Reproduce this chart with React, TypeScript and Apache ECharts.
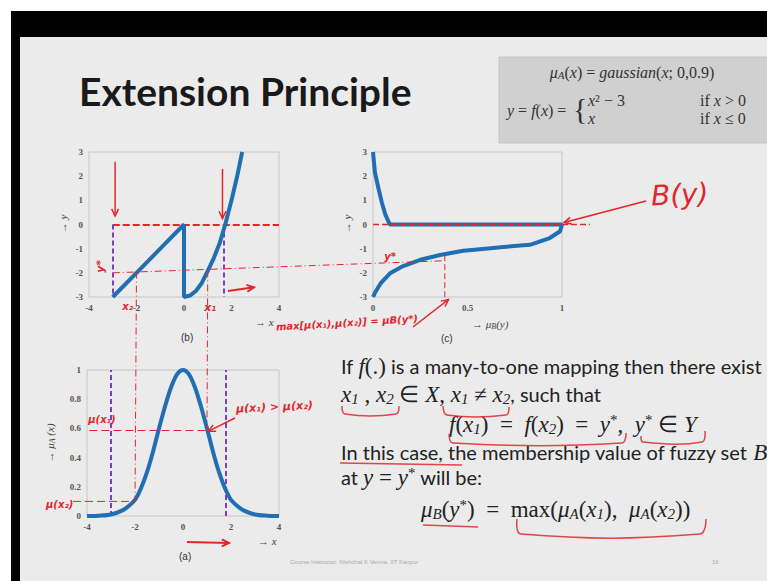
import React, { useEffect, useRef } from 'react';
import * as echarts from 'echarts';

// (b) y = f(x)
const fX = [-3, -2, -1, 0, 0, 0.25, 0.5, 0.75, 1, 1.25, 1.5, 1.75, 2, 2.25, 2.45];
const fY = [-3, -2, -1, 0, -3, -2.94, -2.75, -2.42, -1.92, -1.4, -0.78, 0.05, 1.0, 2.05, 3.0];

// (c) mu_B(y)
const muB = [0, 0.01, 0.03, 0.047, 0.065, 0.083, 0.09, 1, 0.99, 0.935, 0.83, 0.69, 0.566, 0.478, 0.355, 0.25, 0.16, 0.09, 0.04, 0.012, 0];
const yB = [3, 2.16, 1.46, 0.9, 0.42, 0.1, 0, 0, -0.28, -0.56, -0.84, -0.93, -1.02, -1.09, -1.26, -1.46, -1.72, -2.02, -2.44, -2.8, -3];

// (a) mu_A(x)
const aX = [-4, -3.5, -3, -2.5, -2.25, -2, -1.75, -1.5, -1.25, -1, -0.75, -0.5, -0.25, 0, 0.25, 0.5, 0.75, 1, 1.25, 1.5, 1.75, 2, 2.25, 2.5, 3, 3.5, 4];
const aY = [0, 0.002, 0.01, 0.04, 0.07, 0.11, 0.19, 0.3, 0.44, 0.6, 0.75, 0.88, 0.97, 1, 0.97, 0.88, 0.75, 0.6, 0.44, 0.3, 0.19, 0.11, 0.07, 0.04, 0.01, 0.002, 0];

// axis ranges / ticks [min, max, interval]
const xRangeB = [-4, 4, 2];
const yRangeB = [-3, 3, 1];
const xRangeC = [0, 1, 0.5];
const yRangeA = [0, 1, 0.2];

// marked positions
const xLeftMark = -3;
const xRightMarkB = 1.67;
const xRightMarkA = 1.8;
const x2 = -2;
const x1 = 1;
const yStarB = -2;
const yStarC = -1.5;
const muStar = 0.38;
const mu1 = 0.59;
const mu2 = 0.1;

const RED = '#e3262b';
const PURPLE = '#7a3fc9';
const BLUE = '#1f6fb2';
const TICK = { fontFamily: 'Liberation Serif', fontWeight: 'bold' as const, fontSize: 9, color: '#555' };

const pairs = (xs: number[], ys: number[]) => xs.map((x, i) => [x, ys[i]]);

function axis(gi: number, r: number[]) {
  return {
    type: 'value', gridIndex: gi, min: r[0], max: r[1], interval: r[2],
    axisLine: { show: false }, axisTick: { show: false }, splitLine: { show: false },
    axisLabel: { ...TICK, margin: 6 },
  };
}

export default function App() {
  const ref = useRef<HTMLDivElement>(null);
  useEffect(() => {
    const chart = echarts.init(ref.current!, null, { renderer: 'svg' });
    const purpleLine = { color: PURPLE, type: [5, 3], width: 2 };
    chart.setOption({
      animation: false,
      backgroundColor: '#ebebeb',
      grid: [
        { left: 89, top: 152, width: 190, height: 145, show: true, borderColor: '#c6c6c6', borderWidth: 1, backgroundColor: 'transparent' },
        { left: 373, top: 152, width: 189, height: 145, show: true, borderColor: '#c6c6c6', borderWidth: 1, backgroundColor: 'transparent' },
        { left: 87, top: 370, width: 192, height: 146, show: true, borderColor: '#c6c6c6', borderWidth: 1, backgroundColor: 'transparent' },
      ],
      xAxis: [axis(0, xRangeB), axis(1, xRangeC), axis(2, xRangeB)],
      yAxis: [axis(0, yRangeB), axis(1, yRangeB), axis(2, yRangeA)],
      series: [
        {
          type: 'line', xAxisIndex: 0, yAxisIndex: 0, data: pairs(fX, fY), symbol: 'none',
          lineStyle: { color: BLUE, width: 4 }, z: 5,
          markLine: {
            silent: true, symbol: ['none', 'none'], label: { show: false }, z: 4,
            data: [
              [{ coord: [xLeftMark, 0], lineStyle: { color: RED, type: [7, 3], width: 2 } }, { coord: [4, 0] }],
              [{ coord: [xLeftMark, 0], lineStyle: purpleLine }, { coord: [xLeftMark, -3] }],
              [{ coord: [xRightMarkB, 0], lineStyle: purpleLine }, { coord: [xRightMarkB, -3] }],
            ],
          },
        },
        {
          type: 'line', xAxisIndex: 1, yAxisIndex: 1, data: pairs(muB, yB), symbol: 'none',
          lineStyle: { color: BLUE, width: 4 }, z: 5,
        },
        {
          type: 'line', xAxisIndex: 2, yAxisIndex: 2, data: pairs(aX, aY), symbol: 'none', smooth: 0.3,
          lineStyle: { color: BLUE, width: 4 }, z: 5,
          markLine: {
            silent: true, symbol: ['none', 'none'], label: { show: false }, z: 4,
            data: [
              [{ coord: [xLeftMark, 0], lineStyle: purpleLine }, { coord: [xLeftMark, 1] }],
              [{ coord: [xRightMarkA, 0], lineStyle: purpleLine }, { coord: [xRightMarkA, 1] }],
              [{ coord: [-3.9, mu1], lineStyle: { color: RED, type: [8, 4], width: 1 } }, { coord: [x1, mu1] }],
            ],
          },
        },
      ],
    });

    const P = (g: number, x: number, y: number) => chart.convertToPixel({ gridIndex: g } as any, [x, y]) as number[];
    const G: any[] = [];
    const Z = 50;
    const line = (a: number[], b: number[], w = 1.3, dash: any = null, color = RED) =>
      G.push({ type: 'line', z: Z, shape: { x1: a[0], y1: a[1], x2: b[0], y2: b[1] }, style: { stroke: color, lineWidth: w, lineDash: dash } });
    const arrow = (a: number[], b: number[], w = 1.5) => {
      line(a, b, w);
      const ang = Math.atan2(b[1] - a[1], b[0] - a[0]);
      const L = 8;
      const p1 = [b[0] + L * Math.cos(ang + Math.PI - 0.45), b[1] + L * Math.sin(ang + Math.PI - 0.45)];
      const p2 = [b[0] + L * Math.cos(ang + Math.PI + 0.45), b[1] + L * Math.sin(ang + Math.PI + 0.45)];
      G.push({ type: 'polyline', z: Z, shape: { points: [p1, b, p2] }, style: { stroke: RED, lineWidth: w, fill: null } });
    };
    const txt = (x: number, y: number, text: string, style: any, extra: any = {}) =>
      G.push({ type: 'text', z: Z, x, y, ...extra, style: { text, align: 'left', textAlign: 'left', verticalAlign: 'middle', textVerticalAlign: 'middle', ...style } });
    const hand = (x: number, y: number, text: string, size = 10, extra: any = {}, weight = 'bold') =>
      txt(x, y, text, { fontFamily: 'DejaVu Sans', fontStyle: 'italic', fontWeight: weight, fontSize: size, fill: RED }, extra);
    const brace = (pts: number[][], w = 1.5) =>
      G.push({ type: 'polyline', z: Z, shape: { points: pts, smooth: 0.4 }, style: { stroke: RED, lineWidth: w, fill: null, opacity: 0.85 } });

    // background frame
    G.push({ type: 'rect', z: -10, shape: { x: 0, y: 0, width: 767, height: 11 }, style: { fill: '#ffffff' } });
    G.push({ type: 'rect', z: -10, shape: { x: 0, y: 0, width: 11, height: 581 }, style: { fill: '#ffffff' } });
    G.push({ type: 'rect', z: -10, shape: { x: 11, y: 11, width: 756, height: 26 }, style: { fill: '#000000' } });
    G.push({ type: 'rect', z: -10, shape: { x: 11, y: 11, width: 9, height: 570 }, style: { fill: '#000000' } });
    // formula box
    G.push({ type: 'rect', z: -5, shape: { x: 499, y: 57, width: 270, height: 86 }, style: { fill: '#d0d0d0', stroke: '#c4c4c4' } });

    // title
    txt(79, 91, 'Extension Principle', { fontFamily: 'Lato', fontWeight: 'bold', fontSize: 39, fill: '#1a1a1a' });

    // formula box texts
    const fr = {
      m: { fontFamily: 'Liberation Serif', fontStyle: 'italic', fontSize: 16, fill: '#333' },
      r: { fontFamily: 'Liberation Serif', fontSize: 16, fill: '#333' },
      s: { fontFamily: 'Liberation Serif', fontStyle: 'italic', fontSize: 11, fill: '#333', padding: [6, 0, 0, 0] },
    };
    txt(632, 72, '{m|μ}{s|A}{r|(}{m|x}{r|) = }{m|gaussian}{r|(}{m|x}{r|; 0,0.9)}', { rich: fr, align: 'center', textAlign: 'center' });
    txt(507, 110, '{m|y}{r| = }{m|f}{r|(}{m|x}{r|) = }', { rich: fr });
    txt(573, 108, '{', { fontFamily: 'Liberation Serif', fontSize: 30, fill: '#333' });
    txt(588, 100, '{m|x}{r|² − 3}', { rich: fr });
    txt(588, 118, '{m|x}', { rich: fr });
    txt(700, 100, '{r|if }{m|x}{r| > 0}', { rich: fr });
    txt(700, 118, '{r|if }{m|x}{r| ≤ 0}', { rich: fr });

    // axis names and panel labels
    const nm = { fontFamily: 'Liberation Serif', fontStyle: 'italic', fontSize: 11, fill: '#444' };
    txt(255, 322, '→ x', nm);
    txt(63, 224, '→ y', { ...nm, align: 'center', textAlign: 'center' }, { rotation: Math.PI / 2 });
    txt(347, 224, '→ y', { ...nm, align: 'center', textAlign: 'center' }, { rotation: Math.PI / 2 });
    const nrich = {
      m: { fontFamily: 'Liberation Serif', fontStyle: 'italic', fontSize: 11, fill: '#444' },
      s: { fontFamily: 'Liberation Serif', fontStyle: 'italic', fontSize: 8, fill: '#444', padding: [4, 0, 0, 0] },
    };
    txt(472, 324, '{m|→ μ}{s|B}{m|(y)}', { rich: nrich });
    txt(50, 443, '{m|→ μ}{s|A}{m| (x)}', { rich: nrich, align: 'center', textAlign: 'center' }, { rotation: Math.PI / 2 });
    txt(258, 541, '→ x', nm);
    const pl = { fontFamily: 'Liberation Sans', fontSize: 10, fill: '#333' };
    txt(181, 337, '(b)', pl);
    txt(441, 338, '(c)', pl);
    txt(179, 556, '(a)', pl);

    // footer
    txt(290, 562, 'Course Instructor: Nishchal K Verma, IIT Kanpur', { fontFamily: 'Liberation Sans', fontSize: 6, fill: '#a8a8a8' });
    txt(712, 562, '16', { fontFamily: 'Liberation Sans', fontSize: 6, fill: '#a8a8a8' });

    // text block
    const R = {
      t: { fontFamily: 'Lato', fontSize: 20, fill: '#222' },
      m: { fontFamily: 'Liberation Serif', fontStyle: 'italic', fontSize: 23, fill: '#222' },
      r: { fontFamily: 'Liberation Serif', fontSize: 23, fill: '#222' },
      s: { fontFamily: 'Liberation Serif', fontStyle: 'italic', fontSize: 15, fill: '#222', padding: [9, 0, 0, 0] },
      p: { fontFamily: 'Liberation Serif', fontSize: 15, fill: '#222', padding: [0, 0, 9, 0] },
    };
    txt(341, 366, '{t|If }{m|f}{r|(.)}{t| is a many-to-one mapping then there exist}', { rich: R });
    txt(341, 394, '{m|x}{s|1}{r| , }{m|x}{s|2}{r| ∈ }{m|X}{r|, }{m|x}{s|1}{r| ≠ }{m|x}{s|2}{t|, such that}', { rich: R });
    txt(449, 424, '{m|f}{r|(}{m|x}{s|1}{r|)  =  }{m|f}{r|(}{m|x}{s|2}{r|)  =  }{m|y}{p|*}{r|,  }{m|y}{p|*}{r| ∈ }{m|Y}', { rich: R });
    txt(341, 452, '{t|In this case, the membership value of fuzzy set }{m|B}', { rich: R });
    txt(341, 477, '{t|at }{m|y}{r| = }{m|y}{p|*}{t| will be:}', { rich: R });
    txt(421, 509, '{m|μ}{s|B}{r|(}{m|y}{p|*}{r|)  =  max(}{m|μ}{s|A}{r|(}{m|x}{s|1}{r|),  }{m|μ}{s|A}{r|(}{m|x}{s|2}{r|))}', { rich: R });

    // braces / underlines in text block
    brace([[342, 406], [345, 414], [396, 414], [399, 406]]);
    brace([[443, 406], [447, 415], [506, 415], [509, 407]]);
    brace([[449, 434], [453, 443], [622, 443], [626, 433]]);
    brace([[641, 436], [643, 442], [702, 442], [705, 431]]);
    brace([[340, 463], [462, 465]]);
    brace([[423, 525], [478, 527]]);
    brace([[517, 519], [521, 534], [700, 534], [706, 519]]);

    // ---- annotations in (b) ----
    line(P(0, xLeftMark, yStarB), P(1, muStar, yStarC), 1, [7, 3, 1, 3]);
    line(P(0, x2, yStarB + 0.05), P(2, x2, mu2), 1, [7, 3, 1, 3]);
    line(P(0, x1, yStarB + 0.1), P(2, x1, mu1), 1, [7, 3, 1, 3]);
    arrow(P(0, -2.9, 2.6), P(0, -2.9, 0.35));
    arrow(P(0, 1.62, 2.3), P(0, 1.62, 0.25));
    arrow(P(0, 1.85, -2.75), P(0, 2.95, -2.6), 2);
    const ys = P(0, -3.5, -2.0);
    hand(ys[0], ys[1], 'y*', 11, { rotation: Math.PI / 2 });
    const lx2 = P(0, -2.6, -3.38);
    hand(lx2[0], lx2[1], 'x₂', 10);
    const lx1 = P(0, 0.85, -3.42);
    hand(lx1[0], lx1[1], 'x₁', 11);

    // ---- annotations in (c) ----
    const c0 = P(1, 0, 0);
    const c1 = P(1, 1, 0);
    line(c0, [c1[0] + 28, c1[1]], 1.3, [6, 3]);
    line(P(1, muStar, -1.27), P(1, muStar, -3.2), 1, [6, 3]);
    const yc = P(1, 0.06, -1.32);
    hand(yc[0], yc[1], 'y*', 10);
    arrow([413, 327], P(1, 0.4, -3.1), 1.4);
    hand(651, 196, 'B(y)', 28, { rotation: 0.05 }, 'normal');
    arrow([646, 201], [c1[0] + 2, c1[1] - 2], 1.6);
    hand(276, 327, 'max[μ(x₁),μ(x₂)] = μB(y*)', 10, { rotation: 0.06 });

    // ---- annotations in (a) ----
    const h2 = P(2, -4, mu2);
    line([h2[0] - 14, h2[1]], P(2, x2, mu2), 1, [8, 4]);
    const m1 = P(2, -3.95, 0.66);
    hand(m1[0], m1[1], 'μ(x₁)', 10);
    hand(46, 504, 'μ(x₂)', 10);
    hand(236, 409, 'μ(x₁) > μ(x₂)', 11, { rotation: 0.05 });
    arrow([235, 418], P(2, x1 + 0.05, mu1 - 0.01), 1.4);
    arrow([187, 542], [229, 543], 2);

    chart.setOption({ graphic: G });
    return () => chart.dispose();
  }, []);
  return <div ref={ref} style={{ position: 'fixed', left: 0, top: 0, width: 767, height: 581 }} />;
}
